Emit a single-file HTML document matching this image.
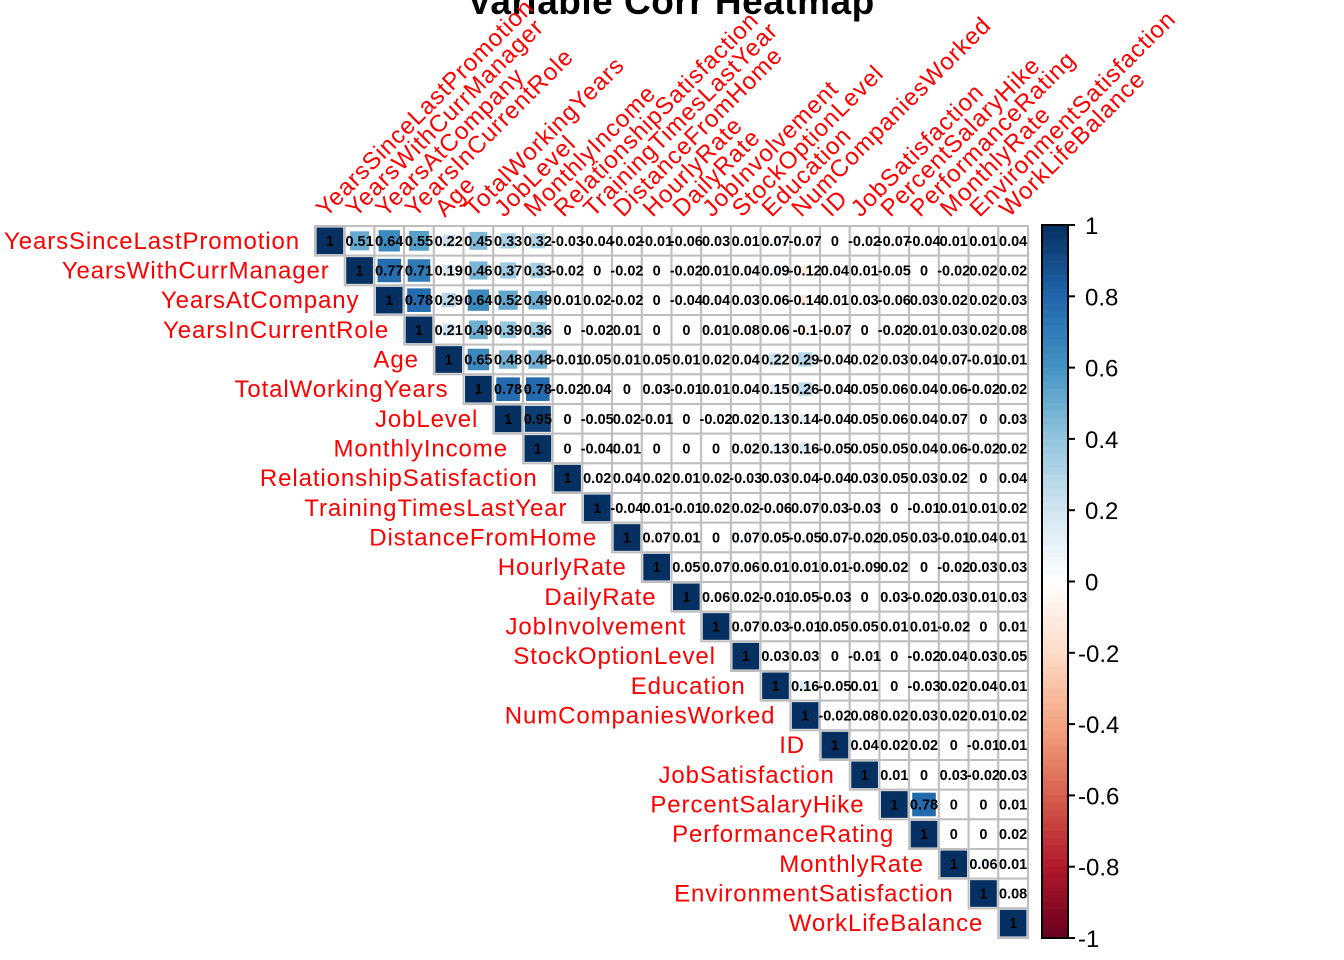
<!DOCTYPE html>
<html><head><meta charset="utf-8"><style>
html,body{margin:0;padding:0;background:#fff;}
svg{display:block;font-family:"Liberation Sans",Arial,sans-serif;}
</style></head><body>
<svg id="chart" width="1344" height="960" viewBox="0 0 1344 960" xmlns="http://www.w3.org/2000/svg">
<text x="671" y="14" text-anchor="middle" font-size="37" font-weight="bold" fill="#000" letter-spacing="0.5">Variable Corr Heatmap</text>
<g id="cells"></g><g id="labels"></g><g id="legend"></g>
</svg>
<script>
const variables = ["YearsSinceLastPromotion","YearsWithCurrManager","YearsAtCompany","YearsInCurrentRole","Age","TotalWorkingYears","JobLevel","MonthlyIncome","RelationshipSatisfaction","TrainingTimesLastYear","DistanceFromHome","HourlyRate","DailyRate","JobInvolvement","StockOptionLevel","Education","NumCompaniesWorked","ID","JobSatisfaction","PercentSalaryHike","PerformanceRating","MonthlyRate","EnvironmentSatisfaction","WorkLifeBalance"];
const row0 = [1,0.51,0.64,0.55,0.22,0.45,0.33,0.32,-0.03,-0.04,-0.02,-0.01,-0.06,0.03,0.01,0.07,-0.07,0,-0.02,-0.07,-0.04,0.01,0.01,0.04];
const row1 = [1,0.77,0.71,0.19,0.46,0.37,0.33,-0.02,0,-0.02,0,-0.02,0.01,0.04,0.09,-0.12,0.04,0.01,-0.05,0,-0.02,0.02,0.02];
const row2 = [1,0.78,0.29,0.64,0.52,0.49,0.01,0.02,-0.02,0,-0.04,0.04,0.03,0.06,-0.14,0.01,0.03,-0.06,0.03,0.02,0.02,0.03];
const row3 = [1,0.21,0.49,0.39,0.36,0,-0.02,0.01,0,0,0.01,0.08,0.06,-0.1,-0.07,0,-0.02,0.01,0.03,0.02,0.08];
const row4 = [1,0.65,0.48,0.48,-0.01,0.05,0.01,0.05,0.01,0.02,0.04,0.22,0.29,-0.04,0.02,0.03,0.04,0.07,-0.01,0.01];
const row5 = [1,0.78,0.78,-0.02,0.04,0,0.03,-0.01,0.01,0.04,0.15,0.26,-0.04,0.05,0.06,0.04,0.06,-0.02,0.02];
const row6 = [1,0.95,0,-0.05,0.02,-0.01,0,-0.02,0.02,0.13,0.14,-0.04,0.05,0.06,0.04,0.07,0,0.03];
const row7 = [1,0,-0.04,0.01,0,0,0,0.02,0.13,0.16,-0.05,0.05,0.05,0.04,0.06,-0.02,0.02];
const row8 = [1,0.02,0.04,0.02,0.01,0.02,-0.03,0.03,0.04,-0.04,0.03,0.05,0.03,0.02,0,0.04];
const row9 = [1,-0.04,0.01,-0.01,0.02,0.02,-0.06,0.07,0.03,-0.03,0,-0.01,0.01,0.01,0.02];
const row10 = [1,0.07,0.01,0,0.07,0.05,-0.05,0.07,-0.02,0.05,0.03,-0.01,0.04,0.01];
const row11 = [1,0.05,0.07,0.06,0.01,0.01,0.01,-0.09,0.02,0,-0.02,0.03,0.03];
const row12 = [1,0.06,0.02,-0.01,0.05,-0.03,0,0.03,-0.02,0.03,0.01,0.03];
const row13 = [1,0.07,0.03,-0.01,0.05,0.05,0.01,0.01,-0.02,0,0.01];
const row14 = [1,0.03,0.03,0,-0.01,0,-0.02,0.04,0.03,0.05];
const row15 = [1,0.16,-0.05,0.01,0,-0.03,0.02,0.04,0.01];
const row16 = [1,-0.02,0.08,0.02,0.03,0.02,0.01,0.02];
const row17 = [1,0.04,0.02,0.02,0,-0.01,0.01];
const row18 = [1,0.01,0,0.03,-0.02,0.03];
const row19 = [1,0.78,0,0,0.01];
const row20 = [1,0,0,0.02];
const row21 = [1,0.06,0.01];
const row22 = [1,0.08];
const row23 = [1];
const rows = [row0,row1,row2,row3,row4,row5,row6,row7,row8,row9,row10,row11,row12,row13,row14,row15,row16,row17,row18,row19,row20,row21,row22,row23];
const legendTicks = [1,0.8,0.6,0.4,0.2,0,-0.2,-0.4,-0.6,-0.8,-1];

const NS="http://www.w3.org/2000/svg";
const X0=315, Y0=226, GW=713, GH=712, N=variables.length;
const cw=GW/N, ch=GH/N;
const xc=j=>X0+j*cw, yc=i=>Y0+i*ch;
const pal=["#67001F","#B2182B","#D6604D","#F4A582","#FDDBC7","#FFFFFF","#D1E5F0","#92C5DE","#4393C3","#2166AC","#053061"];
function hex(h){return [1,3,5].map(k=>parseInt(h.substr(k,2),16));}
function color(v){const t=(v+1)/2*(pal.length-1);const k=Math.min(pal.length-2,Math.floor(t));const f=t-k;const a=hex(pal[k]),b=hex(pal[k+1]);return "rgb("+a.map((c,m)=>Math.round(c+(b[m]-c)*f)).join(",")+")";}
function mk(tag,attrs,parent){const e=document.createElementNS(NS,tag);for(const k in attrs)e.setAttribute(k,attrs[k]);parent.appendChild(e);return e;}
const cells=document.getElementById('cells'), labels=document.getElementById('labels'), legend=document.getElementById('legend');
rows.forEach((r,i)=>{r.forEach((v,k)=>{const j=i+k;
  const bg=mk('rect',{x:xc(j),y:yc(i),width:cw,height:ch,fill:'#fff',stroke:'#BEBEBE','stroke-width':2},cells);
  
  
  const s=Math.sqrt(Math.abs(v))*(cw-3);
  if(s>0.5){const sq=mk('rect',{x:xc(j)+cw/2-s/2,y:yc(i)+ch/2-s/2,width:s,height:s,fill:color(v)},cells);
    
    }
});});
rows.forEach((r,i)=>{r.forEach((v,k)=>{const j=i+k;
  const t=mk('text',{x:xc(j)+cw/2,y:yc(i)+ch/2+5,'text-anchor':'middle','font-size':14.5,'font-weight':'bold',fill:'#000'},cells);
  t.textContent=String(v);
  
  
});});
variables.forEach((name,i)=>{
  const t=mk('text',{x:xc(i)-15,y:yc(i)+ch/2+8,'text-anchor':'end','font-size':24,'letter-spacing':0.9,fill:'#FF0000'},labels);
  t.textContent=name;
  
  
  const px=xc(i)+cw/2-4, py=Y0-8;
  const c=mk('text',{x:px,y:py,'font-size':24,'letter-spacing':0.9,fill:'#FF0000',transform:'rotate(-45 '+px+' '+py+')'},labels);
  c.textContent=name;
  
  
});
const LX=1042, LW=26, LY0=225, LY1=938;
const ly=v=>LY0+(1-v)/2*(LY1-LY0);
for(let k=0;k<100;k++){const v=1-k*0.02;
  const r=mk('rect',{x:LX,y:ly(v),width:LW,height:(LY1-LY0)/100+0.6,fill:color(v-0.01)},legend);
  
  }
const fr=mk('rect',{x:LX,y:LY0,width:LW,height:LY1-LY0,fill:'none',stroke:'#000','stroke-width':2},legend);


legendTicks.forEach(v=>{
  const l=mk('line',{x1:LX+LW,x2:LX+LW+7,y1:ly(v),y2:ly(v),stroke:'#000','stroke-width':2},legend);
  
  
  const t=mk('text',{x:v<0?1078:1085,y:ly(v)+9,'font-size':24,fill:'#000'},legend);
  t.textContent=String(v);
  
  
});
</script>
</body></html>
